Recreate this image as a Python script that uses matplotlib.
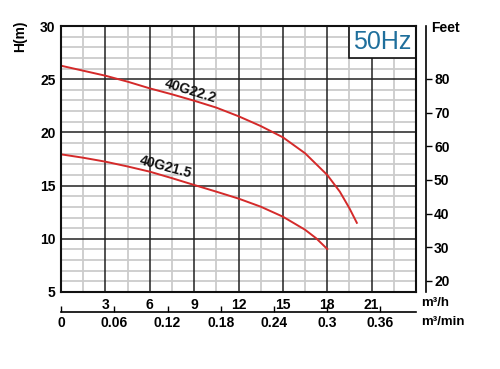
import numpy as np
import matplotlib.pyplot as plt

plt.rcParams['font.family'] = ['Liberation Sans', 'DejaVu Sans']

# pump curves (flow m3/h, head m)
flow_222 = [0, 1.5, 3, 4.5, 6, 7.5, 9, 10.5, 12, 13.5, 15, 16.5, 18, 18.85, 19.5, 20]
head_222 = [26.27, 25.8, 25.33, 24.77, 24.14, 23.58, 22.98, 22.33, 21.52, 20.6,
            19.54, 18.04, 16.0, 14.43, 12.87, 11.5]
flow_215 = [0, 1.5, 3, 4.5, 6, 7.5, 9, 10.5, 12, 13.5, 15, 16.5, 17.25, 18]
head_215 = [17.94, 17.62, 17.25, 16.8, 16.31, 15.7, 15.06, 14.43, 13.78, 13.02,
            12.08, 10.85, 10.05, 9.04]

xticks_h = [3, 6, 9, 12, 15, 18, 21]
xticks_min = [0, 0.06, 0.12, 0.18, 0.24, 0.3, 0.36]
yticks_m = [5, 10, 15, 20, 25, 30]
yticks_ft = [20, 30, 40, 50, 60, 70, 80]

red = '#d42a2a'

fig = plt.figure(figsize=(5, 3.69), dpi=100)
ax = fig.add_axes([0.122, 0.2087, 0.71, 0.7208])

ax.set_xlim(0, 24)
ax.set_ylim(5, 30)

# grid: light every 1.5 m3/h and 1 m, dark every 3 m3/h and 5 m
for x in np.arange(1.5, 24, 3):
    ax.axvline(x, color='#cccccc', lw=1.3, zorder=0)
for y in range(6, 30):
    if y % 5:
        ax.axhline(y, color='#cccccc', lw=1.3, zorder=0)
for x in range(3, 24, 3):
    ax.axvline(x, color='#222222', lw=1.1, zorder=1)
for y in range(10, 30, 5):
    ax.axhline(y, color='#222222', lw=1.1, zorder=1)

ax.plot(flow_222, head_222, color=red, lw=1.4, zorder=3, solid_joinstyle='round')
ax.plot(flow_215, head_215, color=red, lw=1.4, zorder=3, solid_joinstyle='round')

ax.text(8.75, 23.94, '40G22.2', rotation=-17, fontsize=10, fontweight='bold',
        ha='center', va='center', color='#111111', zorder=4)
ax.text(7.06, 16.75, '40G21.5', rotation=-15, fontsize=10, fontweight='bold',
        ha='center', va='center', color='#111111', zorder=4)

# 50Hz box
ax.add_patch(plt.Rectangle((19.5, 27.0), 4.5, 3.0, facecolor='white',
                           edgecolor='#111111', lw=1.2, zorder=5))
ax.text(21.75, 28.5, '50Hz', fontsize=18, color='#1f6f9c',
        ha='center', va='center', zorder=6)

for s in ax.spines.values():
    s.set_linewidth(1.5)
    s.set_color('#111111')
    s.set_zorder(6)

ax.set_xticks(xticks_h)
ax.set_xticklabels([str(v) for v in xticks_h])
ax.set_yticks(yticks_m)
ax.tick_params(axis='both', length=0, labelsize=10, pad=4)
for lab in ax.get_xticklabels() + ax.get_yticklabels():
    lab.set_fontweight('bold')

ax.set_ylabel('H(m)', fontsize=10, fontweight='bold')
ax.yaxis.set_label_coords(-0.096, 0.962)

# second flow axis in m3/min
sec = ax.secondary_xaxis(-0.075, functions=(lambda h: h / 60, lambda m: m * 60))
sec.set_xticks(xticks_min)
sec.set_xticklabels(['0', '0.06', '0.12', '0.18', '0.24', '0.3', '0.36'])
sec.tick_params(direction='in', length=4, width=1, labelsize=10, pad=3)
sec.spines['bottom'].set_linewidth(1.2)
for lab in sec.get_xticklabels():
    lab.set_fontweight('bold')

# feet axis on the right
axr = ax.twinx()
axr.set_ylim(16.73, 95.73)
axr.set_yticks(yticks_ft)
axr.spines['right'].set_position(('outward', 7))
axr.spines['right'].set_linewidth(1.2)
for side in ['top', 'left', 'bottom']:
    axr.spines[side].set_visible(False)
axr.tick_params(axis='y', direction='out', length=4, width=1, labelsize=10, pad=2)
for lab in axr.get_yticklabels():
    lab.set_fontweight('bold')

fig.text(0.89, 0.925, 'Feet', fontsize=10, fontweight='bold', ha='center', va='center')
fig.text(0.843, 0.178, 'm³/h', fontsize=9.5, fontweight='bold', ha='left', va='center')
fig.text(0.843, 0.127, 'm³/min', fontsize=9.5, fontweight='bold', ha='left', va='center')

fig.savefig('out.png', dpi=100, facecolor='white')
